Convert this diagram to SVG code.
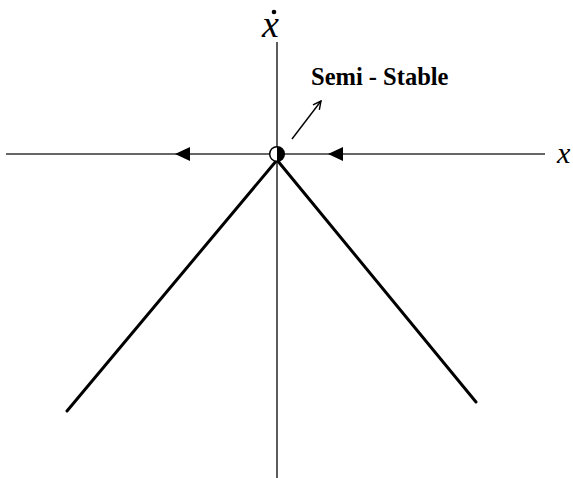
<svg xmlns="http://www.w3.org/2000/svg" width="573" height="478" viewBox="0 0 573 478">
<style>
.axis{stroke:#333;stroke-width:1.6;fill:none}
.traj{stroke:#000;stroke-width:3;fill:none;stroke-linecap:round}
.lbl{font-family:"Liberation Serif",serif;fill:#000}
</style>
<defs>
<marker id="open" viewBox="0 0 10 10" refX="9" refY="5" markerWidth="10" markerHeight="10" markerUnits="userSpaceOnUse" orient="auto">
<path d="M1,1 L9,5 L1,9" fill="none" stroke="#000" stroke-width="1.4"/>
</marker>
</defs>
<rect width="573" height="478" fill="#fff"/>
<g id="connectors">
<line class="axis" x1="6" y1="154" x2="545" y2="154"/>
<line class="axis" x1="277" y1="42" x2="277" y2="478"/>
<line class="traj" x1="277" y1="160" x2="67" y2="411"/>
<line class="traj" x1="277" y1="160" x2="476" y2="402"/>
<path d="M175,154 L190,147 L190,161 Z" fill="#000"/>
<path d="M328,154 L343,147 L343,161 Z" fill="#000"/>
<line x1="292" y1="139" x2="321" y2="101" stroke="#000" stroke-width="1.4" marker-end="url(#open)"/>
</g>
<g id="fixed-point">
<circle cx="277" cy="154" r="7.3" fill="#fff" stroke="#000" stroke-width="1.5"/>
<path d="M277,146.7 A7.3,7.3 0 0 1 277,161.3 Z" fill="#000"/>
</g>
<g id="labels">
<text class="lbl" x="311" y="85" font-size="24.5" font-weight="bold">Semi - Stable</text>
<text class="lbl" x="262" y="37" font-size="38" font-style="italic">x</text>
<circle cx="274" cy="12" r="2.3" fill="#000"/>
<text class="lbl" x="557" y="163" font-size="30" font-style="italic">x</text>
</g>
</svg>
